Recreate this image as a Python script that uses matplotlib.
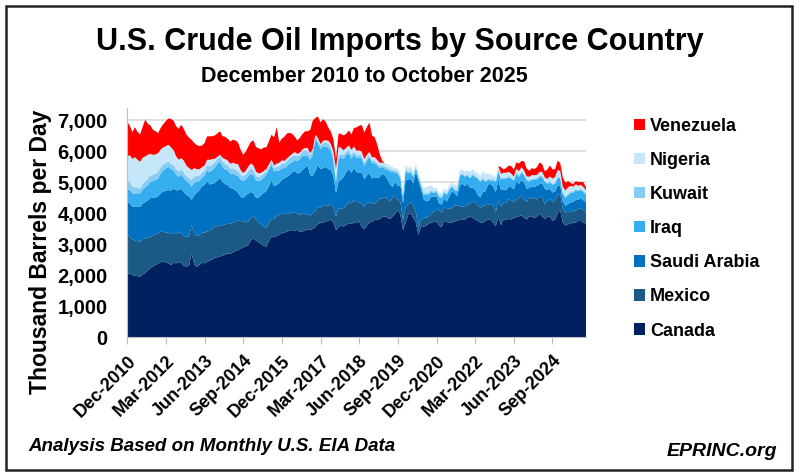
import matplotlib
matplotlib.use('Agg')
import matplotlib.pyplot as plt
from matplotlib.patches import Rectangle, Patch
import pandas as pd

plt.rcParams['font.family'] = ['Liberation Sans', 'DejaVu Sans']

# ---------------- data (thousand barrels per day, Dec-2010 .. Oct-2025) ----------------
months = pd.date_range('2010-12-01', '2025-10-01', freq='MS').strftime('%b-%Y').tolist()

canada = [2060,
    2050, 2000, 1980, 1970, 1950, 2010, 2080, 2150, 2220, 2280, 2330, 2380,
    2420, 2440, 2410, 2380, 2330, 2400, 2380, 2420, 2390, 2300, 2280, 2310,
    2700, 2350, 2270, 2330, 2400, 2380, 2430, 2470, 2500, 2560, 2580, 2610,
    2620, 2660, 2700, 2690, 2730, 2780, 2810, 2850, 2900, 2930, 2980, 3140,
    3190, 3120, 3060, 3000, 2950, 2920, 3100, 3250, 3220, 3280, 3300, 3360,
    3380, 3400, 3440, 3460, 3420, 3470, 3400, 3410, 3450, 3470, 3460, 3500,
    3550, 3650, 3680, 3700, 3720, 3760, 3790, 3700, 3450, 3550, 3600, 3570,
    3620, 3680, 3650, 3700, 3680, 3740, 3560, 3480, 3600, 3700, 3720, 3780,
    3790, 3820, 3880, 3900, 3850, 3820, 3900, 3980, 4100, 3950, 3460, 3700,
    3950, 4000, 3850, 3700, 3300, 3560, 3560, 3600, 3660, 3700, 3720, 3740,
    3600, 3550, 3760, 3720, 3680, 3700, 3730, 3760, 3780, 3790, 3800, 3850,
    3900, 3860, 3800, 3760, 3700, 3680, 3760, 3800, 3780, 3700, 3580, 3880,
    3620, 3800, 3780, 3820, 3800, 3850, 3870, 3900, 3930, 3850, 3800, 3900,
    3900, 3850, 3900, 3980, 3900, 3820, 3880, 3900, 3750, 3800, 4000, 4100,
    3700, 3600, 3650, 3650, 3700, 3700, 3750, 3750, 3700, 3650]

mexico = [1240,
    1200, 1160, 1140, 1130, 1120, 1150, 1100, 1060, 1020, 1000, 990, 975,
    980, 960, 970, 990, 1000, 970, 960, 950, 980, 970, 960, 940,
    920, 980, 1000, 960, 970, 990, 980, 960, 1000, 1020, 1000, 980,
    990, 980, 960, 970, 975, 960, 950, 900, 840, 780, 760, 720,
    700, 680, 650, 640, 610, 600, 590, 560, 600, 640, 650, 620,
    600, 580, 540, 560, 600, 520, 550, 590, 520, 480, 470, 500,
    520, 560, 500, 560, 540, 480, 520, 500, 450, 600, 540, 600,
    620, 700, 660, 720, 680, 620, 760, 720, 760, 640, 600, 520,
    600, 650, 600, 620, 600, 560, 620, 600, 330, 420, 320, 500,
    340, 360, 420, 320, 250, 220, 300, 250, 250, 300, 320, 400,
    500, 480, 420, 440, 480, 460, 520, 500, 460, 420, 430, 410,
    430, 520, 540, 500, 480, 560, 500, 480, 520, 560, 460, 540,
    600, 520, 560, 640, 600, 520, 560, 600, 640, 600, 560, 620,
    560, 640, 540, 560, 620, 480, 520, 560, 620, 600, 580, 500,
    440, 420, 400, 380, 360, 400, 380, 420, 400, 380]

saudi_arabia = [1025,
    1080, 1050, 1100, 1120, 1130, 1150, 1180, 1200, 1250, 1220, 1190, 1186,
    1250, 1300, 1350, 1380, 1400, 1420, 1400, 1380, 1420, 1400, 1350, 1300,
    810, 1250, 1400, 1450, 1500, 1550, 1620, 1500, 1450, 1400, 1480, 1560,
    1400, 1300, 1250, 1150, 1100, 1000, 900, 780, 760, 860, 900, 830,
    750, 701, 800, 950, 1100, 1200, 1180, 1250, 1050, 1000, 1025, 1100,
    1150, 1200, 1250, 1300, 1349, 1300, 1350, 1402, 1500, 1600, 1300, 1200,
    1294, 1350, 1250, 1200, 1250, 1186, 1100, 1000, 755, 863, 950, 1000,
    1100, 1050, 1000, 1050, 970, 950, 1000, 900, 863, 950, 800, 863,
    755, 700, 800, 700, 647, 550, 324, 431, 450, 539, 540, 863,
    800, 750, 700, 1300, 1500, 1000, 600, 540, 500, 540, 500, 400,
    216, 250, 300, 216, 400, 550, 400, 300, 647, 755, 650, 700,
    500, 450, 431, 324, 330, 450, 450, 650, 647, 600, 647, 650,
    550, 450, 400, 400, 450, 400, 600, 450, 500, 550, 431, 300,
    400, 350, 450, 400, 450, 500, 350, 331, 300, 300, 324, 300,
    250, 216, 250, 324, 300, 330, 300, 324, 320, 324]

iraq = [430,
    440, 430, 420, 431, 440, 460, 480, 500, 520, 540, 560, 594,
    620, 680, 720, 755, 700, 600, 500, 432, 450, 480, 440, 420,
    431, 400, 350, 300, 270, 300, 350, 400, 450, 500, 539, 520,
    500, 480, 486, 470, 480, 500, 540, 560, 540, 520, 560, 580,
    594, 560, 520, 486, 500, 520, 539, 500, 480, 450, 400, 380,
    323, 350, 380, 324, 350, 400, 450, 450, 400, 300, 500, 700,
    1000, 700, 650, 700, 650, 700, 600, 500, 324, 755, 700, 600,
    550, 500, 450, 431, 450, 500, 450, 431, 480, 520, 500, 450,
    400, 300, 216, 216, 300, 431, 500, 300, 400, 216, 216, 324,
    200, 216, 200, 150, 108, 108, 150, 216, 200, 150, 108, 150,
    200, 216, 200, 216, 200, 150, 100, 150, 300, 300, 300, 270,
    300, 400, 400, 539, 500, 431, 300, 150, 108, 200, 324, 300,
    324, 350, 378, 300, 270, 280, 250, 220, 250, 230, 260, 200,
    220, 250, 210, 230, 200, 220, 200, 210, 250, 260, 240, 220,
    250, 270, 280, 300, 300, 324, 280, 260, 270, 250]

kuwait = [270,
    250, 220, 200, 180, 162, 170, 190, 200, 210, 200, 210, 215,
    220, 200, 180, 170, 162, 170, 180, 170, 162, 170, 160, 162,
    216, 200, 190, 180, 170, 161, 170, 180, 170, 160, 162, 170,
    180, 170, 160, 162, 170, 160, 170, 162, 150, 160, 170, 180,
    160, 150, 140, 130, 120, 110, 100, 110, 120, 130, 140, 150,
    150, 160, 170, 180, 160, 150, 140, 150, 160, 170, 150, 130,
    120, 110, 100, 110, 120, 130, 120, 140, 150, 130, 120, 110,
    100, 110, 120, 100, 90, 80, 90, 100, 80, 70, 80, 90,
    80, 70, 60, 70, 80, 60, 50, 60, 70, 60, 50, 60,
    50, 60, 50, 40, 50, 60, 50, 40, 50, 60, 50, 40,
    50, 40, 30, 40, 50, 40, 30, 40, 50, 40, 30, 40,
    40, 50, 40, 30, 40, 50, 40, 30, 40, 50, 40, 30,
    40, 30, 40, 50, 40, 30, 40, 50, 40, 30, 40, 50,
    40, 30, 40, 50, 40, 30, 40, 50, 40, 30, 40, 50,
    40, 30, 40, 50, 40, 30, 40, 30, 40, 30]

nigeria = [810,
    860, 900, 971, 900, 863, 850, 809, 780, 701, 650, 620, 593,
    570, 550, 539, 540, 539, 480, 420, 378, 380, 378, 350, 330,
    324, 280, 216, 200, 180, 162, 180, 216, 180, 120, 60, 54,
    100, 162, 150, 160, 180, 200, 216, 150, 108, 120, 140, 160,
    150, 130, 120, 100, 90, 80, 70, 60, 80, 100, 120, 100,
    90, 80, 70, 90, 100, 80, 70, 60, 80, 90, 60, 50,
    54, 60, 54, 70, 80, 90, 108, 150, 300, 250, 200, 150,
    130, 150, 170, 160, 150, 140, 130, 120, 110, 100, 108, 110,
    100, 90, 80, 100, 120, 108, 100, 80, 90, 100, 80, 120,
    110, 150, 120, 100, 80, 100, 150, 200, 216, 150, 120, 100,
    100, 120, 108, 100, 90, 100, 150, 160, 150, 108, 130, 120,
    160, 150, 120, 140, 160, 200, 216, 180, 150, 108, 120, 130,
    140, 160, 150, 130, 120, 108, 120, 140, 130, 120, 100, 108,
    120, 108, 100, 120, 130, 108, 120, 140, 160, 180, 216, 200,
    180, 200, 216, 180, 160, 150, 140, 130, 120, 108]

venezuela = [1130,
    950, 863, 971, 900, 880, 1000, 1187, 1000, 917, 809, 750, 647,
    700, 750, 809, 850, 917, 950, 971, 1000, 1079, 1020, 1000, 980,
    971, 809, 780, 750, 701, 720, 755, 760, 740, 755, 760, 755,
    701, 720, 701, 720, 740, 755, 700, 650, 593, 620, 647, 700,
    809, 800, 809, 760, 755, 701, 750, 809, 900, 1187, 647, 700,
    780, 809, 750, 650, 500, 431, 480, 500, 539, 539, 750, 917,
    539, 700, 700, 700, 600, 431, 400, 400, 324, 431, 450, 485,
    450, 485, 500, 600, 755, 800, 863, 863, 900, 950, 700, 647,
    500, 270, 50, 0, 0, 0, 0, 0, 0, 0, 0, 0,
    0, 0, 0, 0, 0, 0, 0, 0, 0, 0, 0, 0,
    0, 0, 0, 0, 0, 0, 0, 0, 0, 0, 0, 0,
    0, 0, 0, 0, 0, 0, 0, 0, 0, 0, 0, 0,
    216, 108, 150, 200, 250, 220, 200, 250, 200, 300, 250, 200,
    216, 200, 250, 300, 250, 200, 300, 350, 300, 250, 300, 250,
    300, 250, 200, 100, 80, 100, 120, 100, 150, 100]

series_names = ['Canada', 'Mexico', 'Saudi Arabia', 'Iraq', 'Kuwait', 'Nigeria', 'Venezuela']
tick_labels = ['Dec-2010', 'Mar-2012', 'Jun-2013', 'Sep-2014', 'Dec-2015', 'Mar-2017',
               'Jun-2018', 'Sep-2019', 'Dec-2020', 'Mar-2022', 'Jun-2023', 'Sep-2024']
y_ticks = [0, 1000, 2000, 3000, 4000, 5000, 6000, 7000]

colors = ['#002060', '#1B5A86', '#0070C0', '#35AEF0', '#86CCF5', '#C6E6FA', '#FF0000']

# ---------------- figure ----------------
fig = plt.figure(figsize=(8, 4.76), dpi=100)
ax = fig.add_axes([0.159, 0.292, 0.5735, 0.481])

x = list(range(len(months)))
ax.stackplot(x, canada, mexico, saudi_arabia, iraq, kuwait, nigeria, venezuela,
             colors=colors, linewidth=0, zorder=2)

ax.set_xlim(0, len(months) - 1)
ax.set_ylim(0, 7400)
ax.set_yticks(y_ticks)
ax.set_yticklabels([f'{v:,}' for v in y_ticks], fontsize=14.5, fontweight='bold')
ax.set_xticks([months.index(t) for t in tick_labels])
ax.set_xticklabels(tick_labels, rotation=45, ha='right', rotation_mode='anchor',
                   fontsize=13, fontweight='bold')
ax.grid(axis='y', color='#D9D9D9', linewidth=1.2, zorder=0)
ax.set_axisbelow(True)
for s in ['top', 'right']:
    ax.spines[s].set_visible(False)
ax.spines['left'].set_color('#BFBFBF')
ax.spines['bottom'].set_color('#BFBFBF')
ax.tick_params(axis='y', length=0, pad=14)
ax.tick_params(axis='x', length=5, color='#BFBFBF', pad=6)
ax.set_ylabel('Thousand Barrels per Day', fontsize=16.5, fontweight='bold')
ax.yaxis.set_label_coords(-0.163, 0.37)

fig.text(0.5, 0.912, 'U.S. Crude Oil Imports by Source Country', ha='center', va='center',
         fontsize=22, fontweight='bold')
fig.text(0.456, 0.84, 'December 2010 to October 2025', ha='center', va='center',
         fontsize=15.5, fontweight='bold')
fig.text(0.035, 0.061, 'Analysis Based on Monthly U.S. EIA Data', ha='left', va='center',
         fontsize=13.5, fontweight='bold', style='italic')
fig.text(0.972, 0.051, 'EPRINC.org', ha='right', va='center',
         fontsize=14, fontweight='bold', style='italic')

handles = [Patch(facecolor=c, edgecolor='none') for c in colors][::-1]
fig.legend(handles, series_names[::-1], loc='upper left', bbox_to_anchor=(0.772, 0.787),
           frameon=False, handlelength=0.6, handleheight=0.6, handletextpad=0.3,
           labelspacing=0.95, prop=dict(weight='bold', size=13))

fig.patches.append(Rectangle((0.008, 0.012), 0.982, 0.975, transform=fig.transFigure,
                             fill=False, edgecolor='#222222', linewidth=1.8))

fig.savefig('out.png', dpi=100)
